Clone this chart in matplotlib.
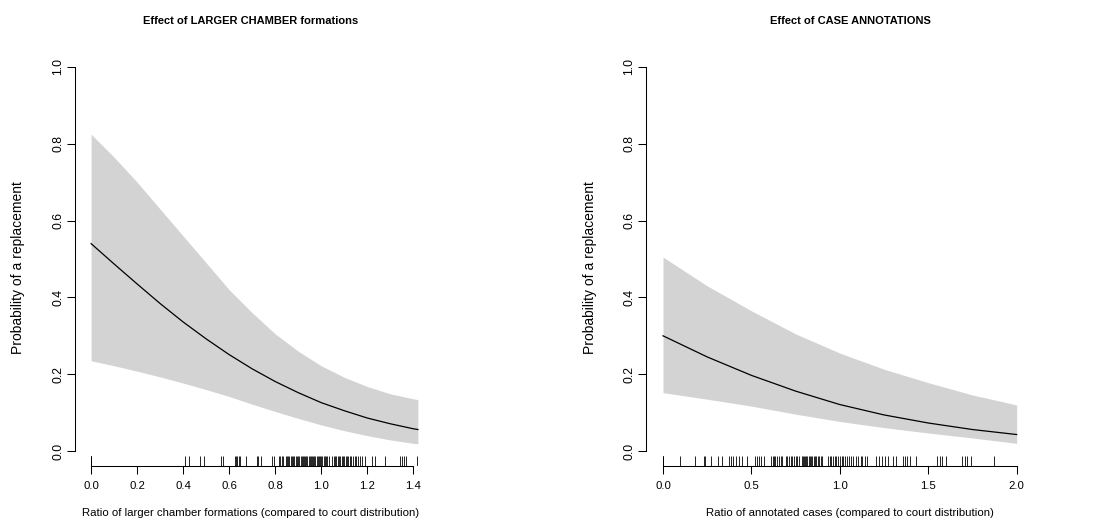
import matplotlib
matplotlib.use("Agg")
import matplotlib.pyplot as plt
import matplotlib.transforms as mtransforms

plt.rcParams['font.family'] = ['Liberation Sans', 'DejaVu Sans']

# ---------------- data ----------------
left_x = [0.0, 0.1, 0.2, 0.3, 0.4, 0.5, 0.6, 0.7, 0.8, 0.9, 1.0, 1.1, 1.2, 1.3, 1.4, 1.42]
left_fit = [0.540, 0.487, 0.435, 0.384, 0.336, 0.292, 0.251, 0.214, 0.181, 0.152,
            0.126, 0.105, 0.086, 0.071, 0.058, 0.056]
left_upper = [0.825, 0.765, 0.700, 0.630, 0.560, 0.490, 0.420, 0.360, 0.305, 0.260,
              0.222, 0.192, 0.168, 0.149, 0.136, 0.134]
left_lower = [0.235, 0.222, 0.208, 0.193, 0.177, 0.160, 0.142, 0.122, 0.103, 0.085,
              0.068, 0.053, 0.040, 0.029, 0.020, 0.019]
left_rug = [0.0, 0.0, 0.0, 0.408, 0.427, 0.474, 0.492, 0.564, 0.573, 0.625, 0.631, 0.636,
            0.641, 0.647, 0.674, 0.720, 0.726, 0.740, 0.787, 0.795, 0.815, 0.822, 0.830,
            0.836, 0.845, 0.850, 0.856, 0.862, 0.868, 0.872, 0.878, 0.883, 0.889, 0.894,
            0.900, 0.905, 0.910, 0.915, 0.920, 0.925, 0.930, 0.935, 0.940, 0.945, 0.950,
            0.955, 0.960, 0.965, 0.970, 0.975, 0.980, 0.985, 0.990, 0.995, 1.000, 1.005,
            1.010, 1.015, 1.020, 1.027, 1.035, 1.048, 1.055, 1.060, 1.066, 1.072, 1.078,
            1.083, 1.090, 1.095, 1.100, 1.106, 1.112, 1.118, 1.124, 1.130, 1.137, 1.145,
            1.152, 1.160, 1.168, 1.178, 1.190, 1.220, 1.233, 1.275, 1.344, 1.352, 1.359,
            1.367, 1.415]

right_x = [0.0, 0.25, 0.5, 0.75, 1.0, 1.25, 1.5, 1.75, 2.0]
right_fit = [0.300, 0.245, 0.197, 0.156, 0.121, 0.094, 0.073, 0.056, 0.043]
right_upper = [0.505, 0.430, 0.365, 0.305, 0.255, 0.213, 0.178, 0.146, 0.120]
right_lower = [0.152, 0.135, 0.117, 0.096, 0.077, 0.061, 0.047, 0.034, 0.020]
right_rug = [0.0, 0.0, 0.0, 0.094, 0.178, 0.230, 0.240, 0.272, 0.311, 0.334, 0.373, 0.383,
             0.397, 0.412, 0.430, 0.444, 0.477, 0.519, 0.531, 0.542, 0.555, 0.573, 0.609,
             0.620, 0.628, 0.636, 0.645, 0.655, 0.665, 0.675, 0.694, 0.703, 0.712, 0.722,
             0.731, 0.740, 0.750, 0.760, 0.769, 0.784, 0.790, 0.797, 0.803, 0.810, 0.817,
             0.823, 0.830, 0.837, 0.844, 0.851, 0.858, 0.866, 0.874, 0.882, 0.894, 0.900,
             0.933, 0.942, 0.951, 0.960, 0.970, 0.980, 0.990, 1.000, 1.010, 1.020, 1.031,
             1.042, 1.053, 1.065, 1.077, 1.090, 1.105, 1.118, 1.128, 1.144, 1.152, 1.203,
             1.220, 1.238, 1.255, 1.275, 1.298, 1.316, 1.355, 1.368, 1.381, 1.394, 1.433,
             1.550, 1.565, 1.580, 1.600, 1.690, 1.705, 1.720, 1.740, 1.870]

left_xticks = [0.0, 0.2, 0.4, 0.6, 0.8, 1.0, 1.2, 1.4]
left_xticklabels = ["0.0", "0.2", "0.4", "0.6", "0.8", "1.0", "1.2", "1.4"]
right_xticks = [0.0, 0.5, 1.0, 1.5, 2.0]
right_xticklabels = ["0.0", "0.5", "1.0", "1.5", "2.0"]
yticks = [0.0, 0.2, 0.4, 0.6, 0.8, 1.0]
yticklabels = ["0.0", "0.2", "0.4", "0.6", "0.8", "1.0"]

titles = ["Effect of LARGER CHAMBER formations", "Effect of CASE ANNOTATIONS"]
xlabels = ["Ratio of larger chamber formations (compared to court distribution)",
           "Ratio of annotated cases (compared to court distribution)"]
ylabel = "Probability of a replacement"

# ---------------- figure ----------------
W, H = 1100, 529
fig = plt.figure(figsize=(W / 100, H / 100), dpi=100)

def px_axes(x0, x1, y0, y1):
    return fig.add_axes([x0 / W, (H - y1) / H, (x1 - x0) / W, (y1 - y0) / H])

band_col = "#D3D3D3"
fs_tick = 8.2
fs_ytick = 8.8
fs_lab = 8.2
fs_ylab = 10.0
fs_title = 8.0

Y0, Y1 = 51.6, 466.4  # plot region top / bottom in pixels

panels = [
    dict(ax=px_axes(75.0, 431.0, Y0, Y1), x=left_x, fit=left_fit, up=left_upper,
         lo=left_lower, rug=left_rug, xt=left_xticks, xtl=left_xticklabels,
         xlim=(-0.07, 1.477), cx=251, ylx=18),
    dict(ax=px_axes(646.0, 1034.0, Y0, Y1), x=right_x, fit=right_fit, up=right_upper,
         lo=right_lower, rug=right_rug, xt=right_xticks, xtl=right_xticklabels,
         xlim=(-0.0963, 2.0017 + 0.0963), cx=850, ylx=590),
]

for i, p in enumerate(panels):
    ax = p["ax"]
    ax.fill_between(p["x"], p["lo"], p["up"], color=band_col, linewidth=0)
    ax.plot(p["x"], p["fit"], color="black", linewidth=0.9)
    trans = mtransforms.blended_transform_factory(ax.transData, ax.transAxes)
    ax.vlines(p["rug"], 0, 0.024, transform=trans, color="black", linewidth=0.6)

    ax.set_xlim(*p["xlim"])
    ax.set_ylim(-0.04, 1.04)
    for s in ["top", "right"]:
        ax.spines[s].set_visible(False)
    ax.spines["left"].set_bounds(0, 1)
    ax.spines["bottom"].set_bounds(p["xt"][0], p["xt"][-1])
    for s in ["left", "bottom"]:
        ax.spines[s].set_linewidth(0.75)
        ax.spines[s].set_color("black")

    ax.set_xticks(p["xt"])
    ax.set_xticklabels(p["xtl"], fontsize=fs_tick)
    ax.set_yticks(yticks)
    ax.set_yticklabels(yticklabels, fontsize=fs_ytick, rotation=90, va="center")
    ax.tick_params(axis="both", length=5.8, width=0.75, color="black")
    ax.tick_params(axis="x", pad=5)
    ax.tick_params(axis="y", pad=2)

    fig.text(p["cx"] / W, 1 - 21 / H, titles[i], fontsize=fs_title,
             fontweight="bold", ha="center", va="center")
    fig.text(p["cx"] / W, 1 - 513 / H, xlabels[i], fontsize=fs_lab,
             ha="center", va="center")
    fig.text(p["ylx"] / W, 1 - 268 / H, ylabel, fontsize=fs_ylab,
             rotation=90, ha="center", va="center")

fig.savefig("out.png", dpi=100)
